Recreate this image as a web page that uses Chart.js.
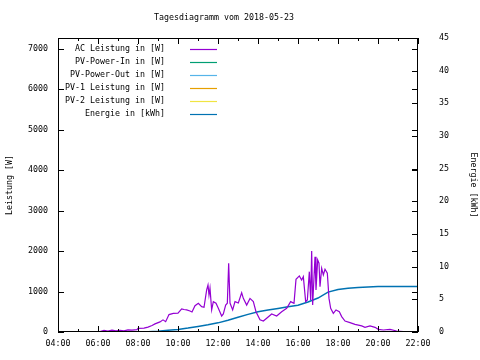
<!DOCTYPE html>
<html>
<head>
<meta charset="utf-8">
<script src="https://cdn.jsdelivr.net/npm/chart.js@4/dist/chart.umd.min.js"></script>
<style>
  html, body { margin: 0; padding: 0; background: #fff; }
</style>
</head>
<body>
<canvas id="chart" width="480" height="360"></canvas>
<script>
// Werte aus dem Tagesdiagramm
const chartTitle = 'Tagesdiagramm vom 2018-05-23';

const acTimes = ['06:06', '06:18', '06:30', '06:42', '06:54', '07:06', '07:18', '07:30', '07:42', '07:57',
  '08:00', '08:18', '08:30', '08:42', '08:51', '09:06', '09:15', '09:23', '09:33', '09:46',
  '10:00', '10:11', '10:18', '10:26', '10:36', '10:42', '10:51', '11:01', '11:11', '11:18',
  '11:26', '11:30', '11:33', '11:36', '11:41', '11:46', '11:54', '12:01', '12:11', '12:16',
  '12:23', '12:28', '12:32', '12:36', '12:44', '12:51', '13:01', '13:11', '13:16', '13:26',
  '13:36', '13:46', '13:54', '14:06', '14:16', '14:26', '14:41', '14:56', '15:11', '15:26',
  '15:38', '15:48', '15:54', '16:04', '16:11', '16:16', '16:23', '16:28', '16:34', '16:38',
  '16:41', '16:44', '16:51', '16:54', '16:59', '17:03', '17:06', '17:11', '17:16', '17:21',
  '17:28', '17:33', '17:38', '17:46', '17:54', '18:04', '18:11', '18:21', '18:36', '18:51',
  '19:11', '19:21', '19:36', '19:51', '20:01', '20:16', '20:36', '20:56', '21:16', '21:26'];
const acPower = [10, 40, 25, 45, 30, 40, 30, 50, 45, 60,
  90, 95, 120, 160, 200, 250, 300, 255, 430, 460,
  465, 570, 555, 545, 520, 495, 650, 710, 625, 610,
  1040, 1160, 910, 1080, 545, 750, 710, 585, 395, 445,
  665, 710, 1700, 715, 545, 750, 715, 970, 830, 665,
  830, 750, 500, 300, 270, 340, 445, 395, 500, 585,
  750, 710, 1300, 1385, 1285, 1365, 750, 790, 1490, 790,
  2000, 665, 1860, 1040, 1780, 1700, 1120, 1575, 1410, 1550,
  1450, 830, 585, 460, 545, 500, 380, 270, 230, 190,
  150, 115, 150, 115, 65, 50, 65, 25, 10, 0];

const energyTimes = ['08:00', '08:30', '09:00', '09:30', '10:00', '10:30', '11:00', '11:30', '12:00', '12:30',
  '13:00', '13:30', '14:00', '14:30', '15:00', '15:30', '16:00', '16:30', '17:00', '17:30',
  '18:00', '18:30', '19:00', '19:30', '20:00', '21:00', '22:00'];
const energyKwh = [0, 0.02, 0.1, 0.25, 0.4, 0.6, 0.85, 1.1, 1.4, 1.8,
  2.25, 2.7, 3.1, 3.35, 3.6, 3.85, 4.1, 4.6, 5.2, 6.1,
  6.5, 6.7, 6.8, 6.9, 6.95, 6.97, 6.97];

const seriesLabels = ['AC Leistung in [W]', 'PV-Power-In in [W]', 'PV-Power-Out in [W]',
  'PV-1 Leistung in [W]', 'PV-2 Leistung in [W]', 'Energie in [kWh]'];
const seriesColors = ['#9400d3', '#009e73', '#56b4e9', '#e69f00', '#f0e442', '#0072b2'];

const powerTicks = [0, 1000, 2000, 3000, 4000, 5000, 6000, 7000];
const energyTicks = [0, 5, 10, 15, 20, 25, 30, 35, 40, 45];

const FONT = '"DejaVu Sans Mono", monospace';

function toHours(t) {
  const [h, m] = t.split(':');
  return Number(h) + Number(m) / 60;
}
function hourLabel(v) {
  return String(v).padStart(2, '0') + ':00';
}

const acData = acTimes.map((t, i) => ({ x: toHours(t), y: acPower[i] }));
const energyData = energyTimes.map((t, i) => ({ x: toHours(t), y: energyKwh[i] }));

// gnuplot-artiger Rahmen, Ticks nach innen, Legende im Plot, Titel
const gnuplotLook = {
  id: 'gnuplotLook',
  afterDatasetsDraw(chart) {
    const { ctx, chartArea: a, scales } = chart;
    ctx.save();
    ctx.strokeStyle = '#000';
    ctx.lineWidth = 1;
    ctx.strokeRect(a.left + 0.5, a.top + 0.5, a.right - a.left - 1, a.bottom - a.top - 1);

    ctx.beginPath();
    // x ticks unten und oben
    for (let h = 4; h <= 22; h++) {
      const px = Math.round(scales.x.getPixelForValue(h)) + 0.5;
      const len = h % 2 === 0 ? 6 : 3;
      ctx.moveTo(px, a.bottom); ctx.lineTo(px, a.bottom - len);
      ctx.moveTo(px, a.top); ctx.lineTo(px, a.top + len);
    }
    // linke Achse, gespiegelt rechts
    powerTicks.forEach(w => {
      const py = Math.round(scales.y.getPixelForValue(w)) + 0.5;
      ctx.moveTo(a.left, py); ctx.lineTo(a.left + 6, py);
      ctx.moveTo(a.right, py); ctx.lineTo(a.right - 6, py);
    });
    // rechte Achse
    energyTicks.forEach(e => {
      const py = Math.round(scales.y1.getPixelForValue(e)) + 0.5;
      ctx.moveTo(a.right, py); ctx.lineTo(a.right - 6, py);
    });
    ctx.stroke();

    // Legende
    ctx.font = '8.3px ' + FONT;
    ctx.textAlign = 'right';
    ctx.textBaseline = 'middle';
    chart.data.datasets.forEach((ds, i) => {
      const y = 49 + i * 12.9;
      ctx.fillStyle = '#000';
      ctx.fillText(ds.label, 165, y);
      ctx.strokeStyle = ds.borderColor;
      ctx.lineWidth = 1.2;
      ctx.beginPath();
      ctx.moveTo(190, Math.round(y) + 0.5);
      ctx.lineTo(217, Math.round(y) + 0.5);
      ctx.stroke();
    });

    // Titel
    ctx.textAlign = 'center';
    ctx.fillStyle = '#000';
    ctx.fillText(chartTitle, 224, 18);
    ctx.restore();
  }
};

new Chart(document.getElementById('chart'), {
  type: 'line',
  data: {
    datasets: [
      { label: seriesLabels[0], data: acData, borderColor: seriesColors[0], borderWidth: 1.2, yAxisID: 'y' },
      { label: seriesLabels[1], data: [], borderColor: seriesColors[1], borderWidth: 1.2, yAxisID: 'y' },
      { label: seriesLabels[2], data: [], borderColor: seriesColors[2], borderWidth: 1.2, yAxisID: 'y' },
      { label: seriesLabels[3], data: [], borderColor: seriesColors[3], borderWidth: 1.2, yAxisID: 'y' },
      { label: seriesLabels[4], data: [], borderColor: seriesColors[4], borderWidth: 1.2, yAxisID: 'y' },
      { label: seriesLabels[5], data: energyData, borderColor: seriesColors[5], borderWidth: 1.5, yAxisID: 'y1' }
    ]
  },
  options: {
    responsive: false,
    animation: false,
    layout: { padding: { top: 38, left: 0, right: 0, bottom: 0 } },
    elements: { point: { radius: 0 }, line: { tension: 0 } },
    plugins: {
      legend: { display: false },
      title: { display: false },
      tooltip: { enabled: false }
    },
    scales: {
      x: {
        type: 'linear',
        min: 4, max: 22,
        grid: { display: false, drawTicks: false },
        border: { display: false },
        ticks: {
          stepSize: 2, padding: 7, maxRotation: 0, autoSkip: false, color: '#000',
          font: { family: FONT, size: 8.3 },
          callback: v => hourLabel(v)
        },
        afterFit: s => { s.height = 28; }
      },
      y: {
        position: 'left',
        min: 0, max: 7260,
        grid: { display: false, drawTicks: false },
        border: { display: false },
        ticks: {
          padding: 10, autoSkip: false, color: '#000',
          font: { family: FONT, size: 8.3 },
          callback: v => String(v)
        },
        afterBuildTicks: s => { s.ticks = powerTicks.map(v => ({ value: v })); },
        title: { display: true, text: 'Leistung [W]', color: '#000', font: { family: FONT, size: 8.3 }, padding: { top: 5, bottom: 0 } },
        afterFit: s => { s.width = 58; }
      },
      y1: {
        position: 'right',
        min: 0, max: 45,
        grid: { display: false, drawTicks: false },
        border: { display: false },
        ticks: {
          padding: 21, autoSkip: false, color: '#000',
          font: { family: FONT, size: 8.3 },
          callback: v => String(v)
        },
        afterBuildTicks: s => { s.ticks = energyTicks.map(v => ({ value: v })); },
        title: { display: true, text: 'Energie [kWh]', color: '#000', font: { family: FONT, size: 8.3 }, padding: { top: 2, bottom: 0 } },
        afterFit: s => { s.width = 62; }
      }
    }
  },
  plugins: [gnuplotLook]
});
</script>
</body>
</html>
